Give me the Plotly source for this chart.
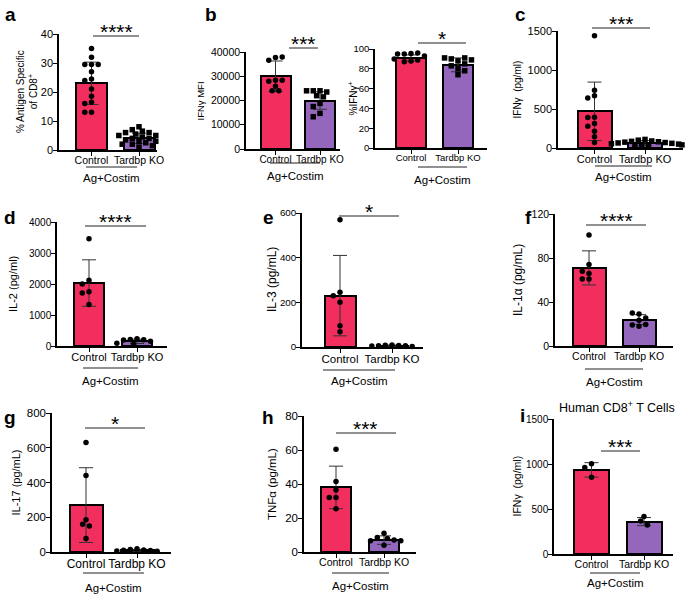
import numpy as np
import plotly.graph_objects as go

W, H = 685, 594

groups = ["Control", "Tardbp KO"]
treatment = "Ag+Costim"

# ---------------- data ----------------
# a: % antigen specific of CD8+
a_ctrl = [35, 32, 29.5, 29.5, 29.5, 27, 24.5, 24, 21, 18.5, 16.5, 16, 13, 13]
a_ko = [8, 7, 6.5, 6, 6, 5.5, 5, 5, 4.5, 4, 4, 3.5, 3, 3, 2.5, 2, 2, 1.5, 1]
a_mean = [23, 4]
a_sd = [7.3, 1.8]
# b left: IFNg MFI
b1_ctrl = [37700, 36600, 37900, 28400, 27900, 28400, 25900, 24000, 24000]
b1_ko = [24000, 24000, 23500, 24000, 22000, 21500, 18800, 17500, 14700, 13300]
b1_mean = [30000, 20000]
b1_sd = [6300, 3600]
# b right: %IFNg+
b2_ctrl = [95.5, 95, 96, 95, 93, 88, 87, 89, 90]
b2_ko = [88, 90, 74, 91, 91, 89, 85, 80, 83, 78]
b2_mean = [91, 84]
b2_sd = [3, 7]
# c: IFNg (pg/ml)
c_ctrl = [1440, 740, 670, 640, 395, 390, 315, 280, 215, 145, 70]
c_ko = [110, 100, 90, 85, 80, 75, 70, 65, 60, 55, 50, 45, 40, 30, 25]
c_mean = [470, 65]
c_sd = [375, 30]
# d: IL-2 (pg/ml)
d_ctrl = [3460, 2120, 2000, 1750, 1710, 1340]
d_ko = [230, 210, 200, 190, 150, 90, 60]
d_mean = [2030, 150]
d_sd = [750, 70]
# e: IL-3 (pg/mL)
e_ctrl = [570, 245, 230, 200, 95, 68]
e_ko = [9, 8, 7, 6, 6, 5, 2]
e_mean = [230, 6]
e_sd = [180, 2.5]
# f: IL-1a (pg/mL)
f_ctrl = [101, 74, 66, 68, 61, 61]
f_ko = [29, 30, 25.5, 23.5, 18, 19, 19.5]
f_mean = [71, 24]
f_sd = [15.5, 4.5]
# g: IL-17 (pg/mL)
g_ctrl = [630, 440, 185, 160, 150, 77]
g_ko = [18, 15, 12, 10, 8, 6, 4]
g_mean = [270, 10]
g_sd = [215, 5]
# h: TNFa (pg/mL)
h_ctrl = [60.5, 41.5, 36.5, 32, 32, 25.5]
h_ko = [11, 8.6, 8, 7, 6.6, 6.6, 3.9]
h_mean = [38, 7]
h_sd = [12.5, 2.5]
# i: human IFNg (pg/ml)
i_ctrl = [1003, 962, 854]
i_ko = [416, 368, 323]
i_mean = [935, 360]
i_sd = [80, 45]

CTRL_COLOR = "#F12E5D"
KO_COLOR = "#9467BD"
FONT = "Liberation Sans, Arial, sans-serif"

# ---------------- layout specs (pixel geometry) ----------------
panels = [
    dict(letter="a", lx=3, ly=2, data=(a_ctrl, a_ko, a_mean, a_sd), ko_sym="square",
         ytitle="% Antigen Specific<br>of CD8<sup>+</sup>", tx=27, tfs=10, ymax=40, dtick=10,
         tickfs=11, xfs=10.5,
         xL=59, xR=157, c0=91.5, c1=139, yTop=34, yBot=150, bw=31,
         stars=4, sy=36, sx0=93, sx1=139, by=167, bx0=86, bx1=137, ty=178),
    dict(letter="b", lx=203, ly=2, data=(b1_ctrl, b1_ko, b1_mean, b1_sd), ko_sym="square",
         ytitle="IFNγ MFI", tx=200, tfs=9.5, ymax=40000, dtick=10000, tickfs=10.5, xfs=10,
         xL=246, xR=340, c0=275.5, c1=320, yTop=52, yBot=149, bw=30,
         stars=3, sy=48, sx0=289, sx1=318, by=163, bx0=270, bx1=320, ty=176),
    dict(letter=None, data=(b2_ctrl, b2_ko, b2_mean, b2_sd), ko_sym="square",
         ytitle="%IFNγ<sup>+</sup>", tx=352, tfs=10, ymax=100, dtick=20, tickfs=9.5, xfs=9.5,
         xL=375, xR=487, c0=411, c1=458, yTop=49, yBot=148, bw=30,
         stars=1, sy=43, sx0=418, sx1=466, by=167, bx0=418, bx1=467, ty=180),
    dict(letter="c", lx=513, ly=2, data=(c_ctrl, c_ko, c_mean, c_sd), ko_sym="square",
         ytitle="IFNγ  (pg/ml)", tx=517, tfs=10, ymax=1500, dtick=500, tickfs=11, xfs=11,
         xL=558, xR=683, c0=594.5, c1=645, yTop=31, yBot=148, bw=34,
         stars=3, sy=28, sx0=592, sx1=650, by=166, bx0=595, bx1=652, ty=177),
    dict(letter="d", lx=2, ly=205, data=(d_ctrl, d_ko, d_mean, d_sd), ko_sym="circle",
         ytitle="IL-2 (pg/ml)", tx=13, tfs=11, ymax=4000, dtick=1000, tickfs=10, xfs=11,
         xL=57, xR=167, c0=89, c1=137, yTop=222, yBot=346, bw=30,
         stars=4, sy=226, sx0=85, sx1=146, by=368, bx0=83, bx1=138, ty=381),
    dict(letter="e", lx=261, ly=205, data=(e_ctrl, e_ko, e_mean, e_sd), ko_sym="circle",
         ytitle="IL-3 (pg/mL)", tx=272, tfs=12, ymax=600, dtick=200, tickfs=9.8, xfs=11.5,
         xL=302, xR=423, c0=340, c1=392, yTop=213, yBot=347, bw=31,
         stars=1, sy=216, sx0=339, sx1=399, by=370, bx0=323, bx1=395, ty=381),
    dict(letter="f", lx=523, ly=205, data=(f_ctrl, f_ko, f_mean, f_sd), ko_sym="circle",
         ytitle="IL-1α (pg/mL)", tx=518, tfs=12, ymax=120, dtick=40, tickfs=10.5, xfs=10.5,
         xL=555, xR=673, c0=589, c1=639, yTop=214, yBot=346, bw=33,
         stars=4, sy=225, sx0=586, sx1=646, by=369, bx0=585, bx1=643, ty=382),
    dict(letter="g", lx=2, ly=405, data=(g_ctrl, g_ko, g_mean, g_sd), ko_sym="circle",
         ytitle="IL-17 (pg/mL)", tx=15, tfs=11, ymax=800, dtick=200, tickfs=11.5, xfs=12,
         xL=52, xR=171, c0=86, c1=137, yTop=413, yBot=552, bw=33,
         stars=1, sy=428, sx0=85, sx1=145, by=573, bx0=83, bx1=144, ty=588),
    dict(letter="h", lx=260, ly=405, data=(h_ctrl, h_ko, h_mean, h_sd), ko_sym="circle",
         ytitle="TNFα (pg/mL)", tx=272, tfs=11.5, ymax=80, dtick=20, tickfs=11.5, xfs=10.5,
         xL=304, xR=416, c0=336, c1=384, yTop=416, yBot=552, bw=29.5,
         stars=3, sy=433, sx0=336, sx1=396, by=573, bx0=332, bx1=389, ty=586),
    dict(letter="i", lx=518, ly=403, data=(i_ctrl, i_ko, i_mean, i_sd), ko_sym="circle",
         ytitle="IFNγ  (pg/ml)", tx=516, tfs=10.5, ymax=1500, dtick=500, tickfs=10, xfs=10.5,
         xL=554, xR=673, c0=591.5, c1=644, yTop=419, yBot=554, bw=35,
         stars=3, sy=451, sx0=601, sx1=640, by=573, bx0=590, bx1=640, ty=583),
]


def px(x):
    return x / W


def py(y):
    return 1 - y / H


def swarm(vals, ypu, xpu, d=5.6):
    placed = []
    offs = []
    step = d * 0.6
    cands = [0.0]
    for j in range(1, 12):
        cands += [-j * step, j * step]
    for v in vals:
        yv = v * ypu
        chosen = cands[-1]
        for c in cands:
            if all((c - ox) ** 2 + (yv - oy) ** 2 >= (d * 0.95) ** 2 for ox, oy in placed):
                chosen = c
                break
        placed.append((chosen, yv))
        offs.append(chosen / xpu)
    return offs


fig = go.Figure()
layout = dict(
    width=W, height=H, margin=dict(l=0, r=0, t=0, b=0),
    paper_bgcolor="white", plot_bgcolor="rgba(0,0,0,0)",
    showlegend=False, font=dict(family=FONT, color="black"),
    bargap=0,
)
annotations = []
shapes = []

for k, p in enumerate(panels, start=1):
    xa = "x" if k == 1 else f"x{k}"
    ya = "y" if k == 1 else f"y{k}"
    ctrl, ko, means, sds = p["data"]
    unit = p["c1"] - p["c0"]
    xr = [(p["xL"] - p["c0"]) / unit, (p["xR"] - p["c0"]) / unit]
    ypu = (p["yBot"] - p["yTop"]) / p["ymax"]

    fig.add_trace(go.Bar(
        x=[0, 1], y=means, width=p["bw"] / unit,
        marker=dict(color=[CTRL_COLOR, KO_COLOR], line=dict(color="black", width=2)),
        error_y=dict(type="data", array=sds, visible=True, color="#333333",
                     thickness=1, width=7),
        xaxis=xa, yaxis=ya, hoverinfo="skip",
    ))
    for gi, (vals, sym) in enumerate([(ctrl, "circle"), (ko, p["ko_sym"])]):
        offs = swarm(vals, ypu, unit)
        fig.add_trace(go.Scatter(
            x=[gi + o for o in offs], y=vals, mode="markers",
            marker=dict(symbol=sym, size=5.5, color="black", line=dict(width=0)),
            xaxis=xa, yaxis=ya, hoverinfo="skip", cliponaxis=False,
        ))

    axkey_x = "xaxis" if k == 1 else f"xaxis{k}"
    axkey_y = "yaxis" if k == 1 else f"yaxis{k}"
    layout[axkey_x] = dict(
        domain=[px(p["xL"]), px(p["xR"])], range=xr, anchor=ya,
        tickvals=[0, 1], ticktext=groups, showline=True, linecolor="black",
        linewidth=1.5, ticks="outside", ticklen=4, tickwidth=1.2, tickcolor="black",
        showgrid=False, zeroline=False, tickfont=dict(size=p["xfs"], family=FONT),
        fixedrange=True, automargin=False, ticklabelstandoff=-4,
    )
    layout[axkey_y] = dict(
        domain=[py(p["yBot"]), py(p["yTop"])], range=[0, p["ymax"]], anchor=xa,
        dtick=p["dtick"], tick0=0, tickformat="d", showline=True, linecolor="black",
        linewidth=1.5, ticks="outside", ticklen=4, tickwidth=1.2, tickcolor="black",
        showgrid=False, zeroline=False, tickfont=dict(size=p["tickfs"], family=FONT),
        fixedrange=True, automargin=False, ticklabelstandoff=-2,
    )

    # y title
    annotations.append(dict(
        text=p["ytitle"], x=px(p["tx"]), y=py((p["yTop"] + p["yBot"]) / 2),
        xref="paper", yref="paper", textangle=-90, showarrow=False,
        xanchor="center", yanchor="middle", font=dict(size=p["tfs"], family=FONT),
    ))
    # panel letter
    if p["letter"]:
        annotations.append(dict(
            text=f"<b>{p['letter']}</b>", x=px(p["lx"]), y=py(p["ly"]),
            xref="paper", yref="paper", showarrow=False, xanchor="left",
            yanchor="top", font=dict(size=19, family=FONT),
        ))
    # significance line + stars
    shapes.append(dict(type="line", xref="paper", yref="paper",
                       x0=px(p["sx0"]), x1=px(p["sx1"]), y0=py(p["sy"]), y1=py(p["sy"]),
                       line=dict(color="#222222", width=1)))
    annotations.append(dict(
        text="*" * p["stars"], x=px((p["sx0"] + p["sx1"]) / 2), y=py(p["sy"] + 9),
        xref="paper", yref="paper", showarrow=False, xanchor="center",
        yanchor="bottom", font=dict(size=21, family=FONT),
    ))
    # treatment bracket + label
    shapes.append(dict(type="line", xref="paper", yref="paper",
                       x0=px(p["bx0"]), x1=px(p["bx1"]), y0=py(p["by"]), y1=py(p["by"]),
                       line=dict(color="#222222", width=1)))
    annotations.append(dict(
        text=treatment, x=px((p["bx0"] + p["bx1"]) / 2), y=py(p["ty"]),
        xref="paper", yref="paper", showarrow=False, xanchor="center",
        yanchor="middle", font=dict(size=11.5, family=FONT),
    ))

annotations.append(dict(
    text="Human CD8<sup>+</sup> T Cells", x=px(617), y=py(407), xref="paper",
    yref="paper", showarrow=False, xanchor="center", yanchor="middle",
    font=dict(size=12.5, family=FONT),
))

layout["annotations"] = annotations
layout["shapes"] = shapes
fig.update_layout(**layout)
fig.write_html(
    "out.html",
    config={"displayModeBar": False},
    post_script="document.body.style.margin='0';document.body.style.padding='0';",
)
